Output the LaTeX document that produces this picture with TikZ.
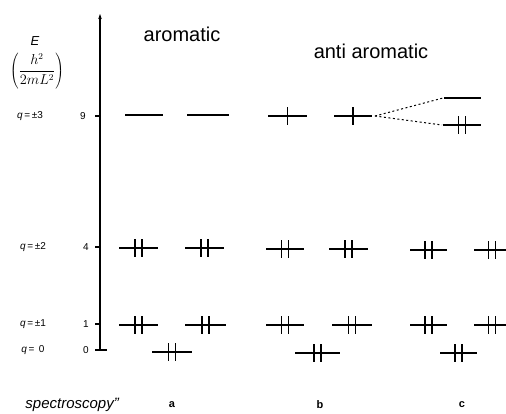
\documentclass[tikz,border=0pt]{standalone}
\usepackage{fontspec}
\setmainfont{Liberation Sans}
\usetikzlibrary{arrows.meta}
\newcommand\mylevel[4]{%
  \draw[lvl] (#1,#3) -- (#2,#3);
  \ifcase#4\or
    \draw[el] ({(#1+#2)/2},{#3-9}) -- ++(0,18);%
  \or
    \draw[el] ({(#1+#2)/2-3.5},{#3-9}) -- ++(0,18);%
    \draw[el] ({(#1+#2)/2+3.5},{#3-9}) -- ++(0,18);%
  \fi}
\begin{document}
\begin{tikzpicture}[x=1pt,y=-1pt,
  lvl/.style={line width=1.2pt},
  el/.style={line width=1.2pt},
  axis/.style={line width=1.2pt},
  lab/.style={font=\fontsize{10}{11}\selectfont, inner sep=0pt},
  ttl/.style={font=\fontsize{20}{22}\selectfont, inner sep=0pt},
  grp/.style={font=\fontsize{11}{12}\selectfont\bfseries, inner sep=0pt},
  corr/.style={line width=1pt, dash pattern=on 2pt off 2.5pt}]
\useasboundingbox (0,0) rectangle (506,413);
\clip (0,0) rectangle (506,413);
% axis
\coordinate (ax0) at (100,350);
\coordinate (axtop) at (100,14);
\draw[axis,-{Stealth[length=5pt,width=3.5pt]}] (ax0) -- (axtop);
\draw[axis] (95,116) -- (100,116);
\draw[axis] (95,247) -- (100,247);
\draw[axis] (95,324) -- (100,324);
\draw[axis] (95,350) -- (107,350);
% axis labels
\node[lab] (e) at (35,41) {\fontsize{13}{15}\selectfont\itshape E};
\node[inner sep=0pt] (unit) at (37,71) {\fontsize{13.5}{16}\selectfont$\displaystyle\left(\frac{h^2}{2mL^2}\right)$};
\node[lab] (q3) at (30,116) {{\itshape q}\,=\,±3};
\node[lab] (q2) at (33,247) {{\itshape q}\,=\,±2};
\node[lab] (q1) at (33,324) {{\itshape q}\,=\,±1};
\node[lab] (q0) at (33,350) {{\itshape q}\,=\;\,0};
\node[lab] (v9) at (83,116) {9};
\node[lab] (v4) at (86,247) {4};
\node[lab] (v1) at (86,324) {1};
\node[lab] (v0) at (86,350) {0};
% titles
\node[ttl] (tar) at (182,34) {aromatic};
\node[ttl] (tanti) at (371,51) {anti aromatic};
% group a
\mylevel{125}{163}{115}{0}
\mylevel{187}{229}{115}{0}
\mylevel{119}{158}{248}{2}
\mylevel{185}{224}{248}{2}
\mylevel{119}{158}{325}{2}
\mylevel{185}{226}{325}{2}
\mylevel{152}{192}{352}{2}
% group b
\mylevel{268}{307}{116}{1}
\mylevel{334}{372}{116}{1}
\mylevel{266}{304}{249}{2}
\mylevel{329}{368}{249}{2}
\mylevel{266}{304}{325}{2}
\mylevel{332}{372}{325}{2}
\mylevel{295}{340}{353}{2}
% group c
\mylevel{444}{481}{98}{0}
\mylevel{443}{481}{125}{2}
\mylevel{410}{447}{250}{2}
\mylevel{474}{510}{250}{2}
\mylevel{410}{447}{325}{2}
\mylevel{474}{510}{325}{2}
\mylevel{440}{477}{353}{2}
% correlation lines
\coordinate (b9r) at (375,116);
\coordinate (c9u) at (443,98);
\coordinate (c9l) at (442,125);
\draw[corr] (b9r) -- (c9u);
\draw[corr] (b9r) -- (c9l);
% group labels
\node[grp] (ga) at (172,405) {a};
\node[grp] (gb) at (320,405) {b};
\node[grp] (gc) at (462,405) {c};
% caption at the lower edge
\node[anchor=base east, inner sep=0pt, font=\fontsize{15}{17}\selectfont\itshape] (cap) at (119,408) {spectroscopy''};
\end{tikzpicture}
\end{document}
